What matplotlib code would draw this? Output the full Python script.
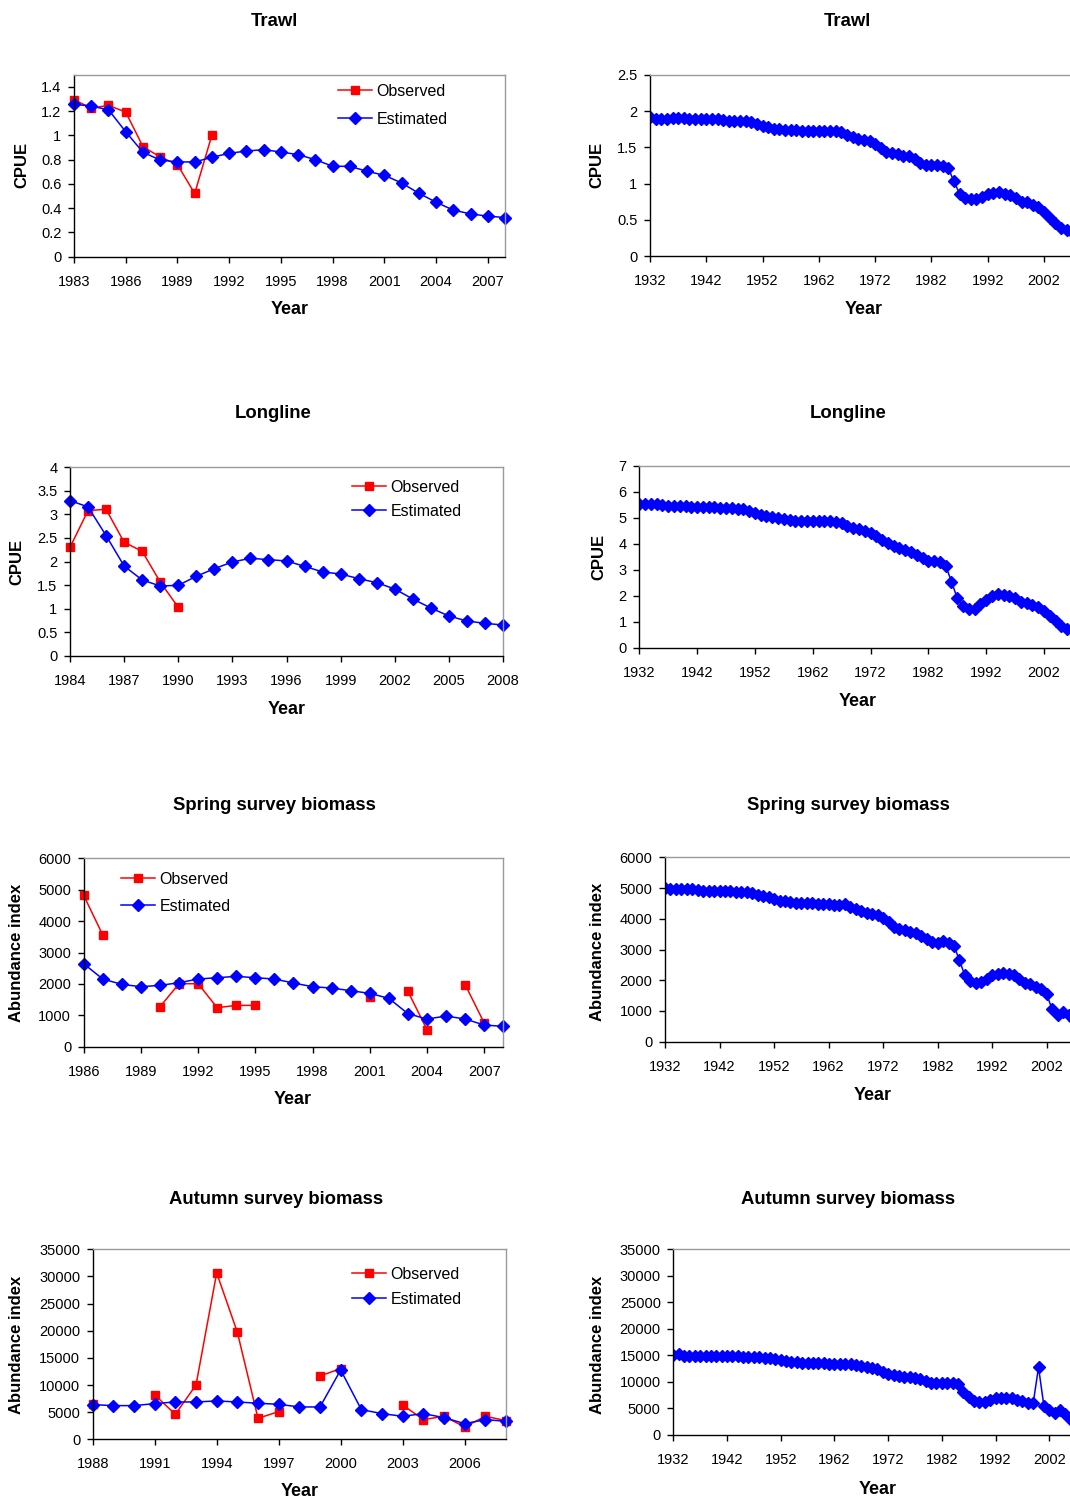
import numpy as np
import matplotlib
matplotlib.use("Agg")
import matplotlib.pyplot as plt

plt.rcParams['font.family'] = ['Liberation Sans', 'DejaVu Sans']

# ---- model fits and observations (recent period) ----
trawl_years = list(range(1983, 2009))
trawl_est = [1.257, 1.241, 1.211, 1.030, 0.860, 0.797, 0.781, 0.781, 0.819, 0.852,
             0.871, 0.882, 0.863, 0.841, 0.800, 0.745, 0.745, 0.704, 0.671, 0.608,
             0.523, 0.449, 0.384, 0.353, 0.334, 0.323]
trawl_obs_years = list(range(1983, 1992))
trawl_obs = [1.293, 1.225, 1.247, 1.192, 0.907, 0.822, 0.759, 0.521, 1.003]

longline_years = list(range(1984, 2009))
longline_est = [3.293, 3.159, 2.550, 1.905, 1.608, 1.480, 1.494, 1.686, 1.848, 1.990,
                2.068, 2.040, 2.011, 1.898, 1.778, 1.735, 1.636, 1.551, 1.416, 1.204,
                1.013, 0.843, 0.737, 0.687, 0.652]
longline_obs_years = list(range(1984, 1991))
longline_obs = [2.302, 3.081, 3.109, 2.408, 2.217, 1.565, 1.027]

spring_years = list(range(1986, 2009))
spring_est = [2643, 2155, 1985, 1911, 1953, 2038, 2155, 2197, 2240, 2197,
              2155, 2028, 1911, 1868, 1783, 1699, 1539, 1051, 881, 977,
              881, 690, 648]
spring_obs_years = list(range(1986, 2008))
spring_obs = [4820, 3556, np.nan, np.nan, 1274, 2006, 2006, 1242, 1316, 1316,
              np.nan, np.nan, np.nan, np.nan, np.nan, 1592, np.nan, 1762, 541, np.nan,
              1975, 754]

autumn_years = list(range(1988, 2009))
autumn_est = [6389, 6204, 6204, 6573, 6880, 6880, 7064, 6880, 6634, 6450,
              5959, 5959, 12777, 5467, 4730, 4239, 4730, 3993, 2887, 3624,
              3317]
autumn_obs_years = list(range(1988, 2009))
autumn_obs = [6512, np.nan, np.nan, 8170, 4607, 10013, 30653, 19719, 3870, 5099,
              np.nan, 11672, 13023, np.nan, np.nan, 6327, 3624, 4239, 2273, 4239,
              3440]

# ---- reconstructed history before the data period ----
trawl_hist = [1.915, 1.897, 1.897, 1.897, 1.900, 1.900, 1.900, 1.888, 1.888, 1.888,
              1.888, 1.888, 1.888, 1.885, 1.869, 1.869, 1.869, 1.865, 1.851, 1.823,
              1.800, 1.786, 1.754, 1.752, 1.740, 1.738, 1.738, 1.731, 1.731, 1.729,
              1.731, 1.731, 1.729, 1.722, 1.708, 1.671, 1.648, 1.621, 1.602, 1.588,
              1.547, 1.496, 1.441, 1.418, 1.409, 1.386, 1.381, 1.335, 1.289, 1.257,
              1.257]
longline_hist = [5.52, 5.52, 5.52, 5.52, 5.51, 5.47, 5.47, 5.46, 5.46, 5.43,
                 5.43, 5.43, 5.42, 5.42, 5.40, 5.39, 5.38, 5.36, 5.33, 5.28,
                 5.20, 5.11, 5.07, 5.02, 4.98, 4.94, 4.92, 4.89, 4.89, 4.89,
                 4.89, 4.88, 4.88, 4.87, 4.83, 4.79, 4.70, 4.60, 4.56, 4.49,
                 4.40, 4.30, 4.15, 4.02, 3.93, 3.83, 3.76, 3.70, 3.57, 3.44,
                 3.35, 3.35]
spring_hist = [5000, 4957, 4957, 4968, 4968, 4957, 4935, 4913, 4913, 4913,
               4913, 4913, 4902, 4881, 4881, 4859, 4826, 4783, 4751, 4696,
               4642, 4588, 4577, 4534, 4523, 4501, 4501, 4501, 4479, 4469,
               4469, 4458, 4458, 4469, 4393, 4317, 4262, 4197, 4143, 4111,
               4013, 3905, 3742, 3655, 3633, 3579, 3525, 3449, 3330, 3254,
               3200, 3275, 3221, 3124]
autumn_hist = [15072, 15198, 14946, 14900, 14946, 14946, 14946, 14946, 14946, 14946,
               14946, 14946, 14946, 14632, 14632, 14758, 14632, 14444, 14444, 14256,
               14130, 14004, 13816, 13754, 13628, 13628, 13628, 13628, 13628, 13376,
               13376, 13376, 13376, 13376, 13188, 13000, 12874, 12686, 12434, 11932,
               11492, 11304, 11178, 10990, 10864, 10676, 10488, 10174, 9734, 9734,
               9734, 9734, 9734, 9546, 8164, 7096]

long_years = list(range(1932, 2009))

W, H = 1070, 1497
fig = plt.figure(figsize=(W / 100, H / 100), dpi=100)


def px_axes(left, top, right, bottom):
    return fig.add_axes([left / W, 1 - bottom / H, (right - left) / W, (bottom - top) / H])


def style(ax, xticks, yticks, ylim, xlim):
    ax.set_xlim(*xlim)
    ax.set_ylim(*ylim)
    ax.set_xticks(xticks)
    ax.set_xticklabels([str(t) for t in xticks])
    ax.set_yticks(yticks)
    ax.set_yticklabels(['%g' % t for t in yticks])
    ax.tick_params(axis='x', direction='out', length=4, width=1, pad=9, labelsize=10.5)
    ax.tick_params(axis='y', direction='out', length=4, width=1, pad=5, labelsize=10.5)
    for s in ['top', 'right']:
        ax.spines[s].set_color('#9a9a9a')
        ax.spines[s].set_linewidth(1)
    for s in ['left', 'bottom']:
        ax.spines[s].set_color('black')
        ax.spines[s].set_linewidth(1)


def label(x, y, s, size=13.3, rot=0):
    fig.text(x / W, 1 - y / H, s, ha='center', va='center', fontsize=size,
             fontweight='bold', rotation=rot)


def fit_panel(ax, obs_years, obs, est_years, est):
    ax.plot(obs_years, obs, color='#ff0000', lw=1.1, marker='s', ms=5.5,
            mec='#ff0000', mfc='#ff0000', label='Observed', clip_on=False)
    ax.plot(est_years, est, color='#0000ff', lw=1.1, marker='D', ms=5.8,
            mec='#0000ff', mfc='#0000ff', label='Estimated', clip_on=False)


def long_panel(ax, hist, est):
    ax.plot(long_years, hist + est, color='#0000ff', lw=1.1, marker='D', ms=6,
            mec='#0000ff', mfc='#0000ff', clip_on=True)


def add_legend(ax, x, y, spacing):
    inv = ax.transAxes.inverted()
    ax_pt = inv.transform(fig.transFigure.transform((x / W, 1 - y / H)))
    ax.legend(loc='upper left', bbox_to_anchor=ax_pt, frameon=False, fontsize=11.5,
              borderpad=0, borderaxespad=0, handlelength=2.1, handletextpad=0.3,
              labelspacing=spacing)


# Trawl
ax = px_axes(74, 74.7, 505, 256.7)
fit_panel(ax, trawl_obs_years, trawl_obs, trawl_years, trawl_est)
style(ax, list(range(1983, 2008, 3)), [0, 0.2, 0.4, 0.6, 0.8, 1, 1.2, 1.4], (0, 1.5), (1983, 2008))
add_legend(ax, 338, 84, 0.8)
label(274, 22, 'Trawl')
label(290, 310, 'Year', 13)
label(22, 165, 'CPUE', 12, 90)

ax = px_axes(650, 75, 650 + 76 * 5.629, 256)
long_panel(ax, trawl_hist, trawl_est)
style(ax, list(range(1932, 2003, 10)), [0, 0.5, 1, 1.5, 2, 2.5], (0, 2.5), (1932, 2008))
label(847, 22, 'Trawl')
label(864, 310, 'Year', 13)
label(597, 165, 'CPUE', 12, 90)

# Longline
ax = px_axes(70, 467.3, 503, 655.7)
fit_panel(ax, longline_obs_years, longline_obs, longline_years, longline_est)
style(ax, list(range(1984, 2009, 3)), [0, 0.5, 1, 1.5, 2, 2.5, 3, 3.5, 4], (0, 4), (1984, 2008))
add_legend(ax, 352, 480, 0.55)
label(273, 414, 'Longline')
label(287, 709, 'Year', 13)
label(17, 562, 'CPUE', 12, 90)

ax = px_axes(639.3, 466, 639.3 + 76 * 5.781, 647.7)
long_panel(ax, longline_hist, longline_est)
style(ax, list(range(1932, 2003, 10)), list(range(0, 8)), (0, 7), (1932, 2008))
label(848, 414, 'Longline')
label(858, 702, 'Year', 13)
label(599, 557, 'CPUE', 12, 90)

# Spring survey
ax = px_axes(83.7, 858.3, 503.3, 1046.7)
fit_panel(ax, spring_obs_years, spring_obs, spring_years, spring_est)
style(ax, list(range(1986, 2008, 3)), list(range(0, 6001, 1000)), (0, 6000), (1986, 2008))
add_legend(ax, 121, 872, 0.74)
label(274, 806, 'Spring survey biomass')
label(293, 1100, 'Year', 13)
label(17, 953, 'Abundance index', 12, 90)

ax = px_axes(665, 857.3, 665 + 76 * 5.453, 1041.7)
long_panel(ax, spring_hist, spring_est)
style(ax, list(range(1932, 2003, 10)), list(range(0, 6001, 1000)), (0, 6000), (1932, 2008))
label(848, 806, 'Spring survey biomass')
label(873, 1096, 'Year', 13)
label(598, 952, 'Abundance index', 12, 90)

# Autumn survey
ax = px_axes(92.7, 1249.3, 506, 1439.3)
fit_panel(ax, autumn_obs_years, autumn_obs, autumn_years, autumn_est)
style(ax, list(range(1988, 2007, 3)), list(range(0, 35001, 5000)), (0, 35000), (1988, 2008))
add_legend(ax, 352, 1267, 0.61)
label(276, 1199, 'Autumn survey biomass')
label(300, 1491, 'Year', 13)
label(17, 1345, 'Abundance index', 12, 90)

ax = px_axes(673.3, 1249.3, 673.3 + 76 * 5.371, 1435)
long_panel(ax, autumn_hist, autumn_est)
style(ax, list(range(1932, 2003, 10)), list(range(0, 35001, 5000)), (0, 35000), (1932, 2008))
label(848, 1199, 'Autumn survey biomass')
label(878, 1489, 'Year', 13)
label(598, 1345, 'Abundance index', 12, 90)

fig.savefig('out.png', dpi=100)
